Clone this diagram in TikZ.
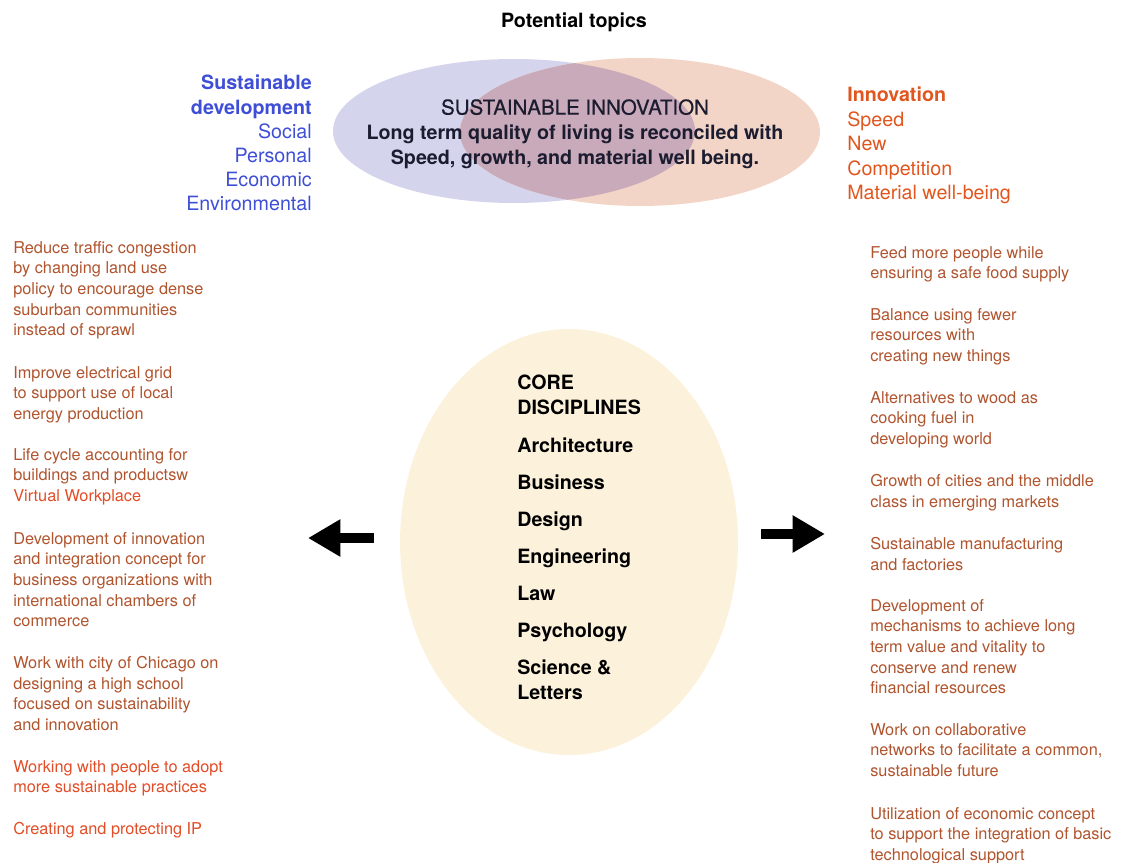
\documentclass[tikz,border=0pt]{standalone}
\usepackage{fontspec}
\setmainfont{TeX Gyre Heros}
\usetikzlibrary{arrows.meta}
\definecolor{sdblue}{RGB}{62,78,214}
\definecolor{innorange}{RGB}{224,86,30}
\definecolor{topicbrown}{RGB}{176,84,46}
\definecolor{topicred}{RGB}{226,76,38}
\definecolor{bluefill}{RGB}{212,212,236}
\definecolor{orangefill}{RGB}{243,213,200}
\definecolor{mixfill}{RGB}{201,170,186}
\definecolor{corefill}{RGB}{252,242,220}
\definecolor{headtext}{RGB}{28,28,48}

\begin{document}
\begin{tikzpicture}[x=0.025cm, y=-0.025cm,
    big/.style={inner sep=0pt, font=\fontsize{14}{17.8}\selectfont},
    topic/.style={anchor=north west, inner sep=0pt, align=left, text=topicbrown, font=\fontsize{11.6}{14.65}\selectfont},
    bigarrow/.style={line width=7.1pt, -{Triangle[length=23pt, width=25pt]}}]
      \useasboundingbox (0,0) rectangle (1122,862);
      \node[big, anchor=north] (PT) at (574,13) {\textbf{Potential topics}};
      \fill[bluefill] (514,131) ellipse [x radius=181, y radius=72];
      \fill[orangefill] (640,132) ellipse [x radius=180, y radius=74];
      \begin{scope}
        \clip (514,131) ellipse [x radius=181, y radius=72];
        \fill[mixfill] (640,132) ellipse [x radius=180, y radius=74];
      \end{scope}
      \fill[corefill] (569,542) ellipse [x radius=169, y radius=213];
      \node[big, anchor=north, align=center, text=headtext] (SI) at (575,99) {{\fontsize{14.6}{17.8}\selectfont\addfontfeature{FakeBold=0.7}SUSTAINABLE INNOVATION}\\\textbf{Long term quality of living is reconciled with}\\\textbf{Speed, growth, and material well being.}};
      \node[big, anchor=north east, align=right, text=sdblue, font=\fontsize{14}{17.2}\selectfont] (SD) at (312,75) {\textbf{Sustainable}\\\textbf{development}\\Social\\Personal\\Economic\\Environmental};
      \node[big, anchor=north west, align=left, text=innorange, font=\fontsize{14}{17.4}\selectfont] (IN) at (847,87) {\textbf{Innovation}\\Speed\\New\\Competition\\Material well-being};
      \node[big, anchor=north west, align=left, text=black] (CORE) at (517,375) {\textbf{CORE}\\\textbf{DISCIPLINES}\\[8.6pt]\textbf{Architecture}\\[8.6pt]\textbf{Business}\\[8.6pt]\textbf{Design}\\[8.6pt]\textbf{Engineering}\\[8.6pt]\textbf{Law}\\[8.6pt]\textbf{Psychology}\\[8.6pt]\textbf{Science \&}\\\textbf{Letters}};
      \coordinate (LT) at (374,538);
      \coordinate (LH) at (308,538);
      \draw[bigarrow] (LT) -- (LH);
      \coordinate (RT) at (761,534);
      \coordinate (RH) at (825,534);
      \draw[bigarrow] (RT) -- (RH);
      \node[topic] (L1) at (13,241) {Reduce traffic congestion\\by changing land use\\policy to encourage dense\\suburban communities\\instead of sprawl};
      \node[topic] (L2) at (13,366) {Improve electrical grid\\to support use of local\\energy production};
      \node[topic] (L3) at (13,448) {Life cycle accounting for\\buildings and productsw\\\textcolor{topicred}{Virtual Workplace}};
      \node[topic] (L4) at (13,532) {Development of innovation\\and integration concept for\\business organizations with\\international chambers of\\commerce};
      \node[topic] (L5) at (13,656) {Work with city of Chicago on\\designing a high school\\focused on sustainability\\and innovation};
      \node[topic, text=topicred] (L6) at (13,760) {Working with people to adopt\\more sustainable practices};
      \node[topic, text=topicred] (L7) at (13,822) {Creating and protecting IP};
      \node[topic] (R1) at (870,246) {Feed more people while\\ensuring a safe food supply};
      \node[topic] (R2) at (870,308) {Balance using fewer\\resources with\\creating new things};
      \node[topic] (R3) at (870,391) {Alternatives to wood as\\cooking fuel in\\developing world};
      \node[topic] (R4) at (870,474) {Growth of cities and the middle\\class in emerging markets};
      \node[topic] (R5) at (870,537) {Sustainable manufacturing\\and factories};
      \node[topic] (R6) at (870,599) {Development of\\mechanisms to achieve long\\term value and vitality to\\conserve and renew\\financial resources};
      \node[topic] (R7) at (870,723) {Work on collaborative\\networks to facilitate a common,\\sustainable future};
      \node[topic] (R8) at (870,807) {Utilization of economic concept\\to support the integration of basic\\technological support};
    \end{tikzpicture}
\end{document}
